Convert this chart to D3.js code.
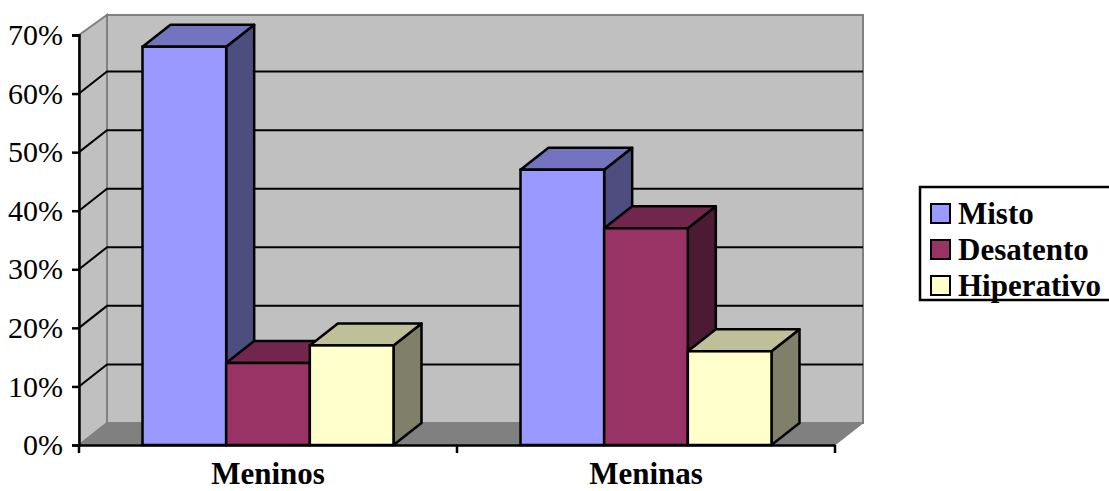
<!DOCTYPE html>
<html>
<head>
<meta charset="utf-8">
<script src="https://cdn.jsdelivr.net/npm/d3@7"></script>
<style>
  html, body { margin: 0; padding: 0; background: #fff; }
  svg { display: block; }
</style>
</head>
<body>
<svg id="chart" width="1109" height="491"></svg>
<script>
// Data
const categories = ["Meninos", "Meninas"];
const seriesNames = ["Misto", "Desatento", "Hiperativo"];
const misto = [68, 47];
const desatento = [14, 37];
const hiperativo = [17, 16];
const yTicks = [0, 10, 20, 30, 40, 50, 60, 70];

// Face colours: front, top, side
const frontColors = ["#9999ff", "#993366", "#ffffcc"];
const topColors = ["#7373bf", "#73264d", "#bfbf99"];
const sideColors = ["#4d4d80", "#4d1a33", "#80806a"];

const values = [misto, desatento, hiperativo];

const svg = d3.select("#chart");
const font = "'Liberation Serif', 'Times New Roman', serif";

// Plot geometry (front plane) and depth offset
const x0 = 79, x1 = 835;
const dx = 28, dy = -22;

const y = d3.scaleLinear().domain([0, 70]).range([445, 35]);
const xCat = d3.scaleBand().domain(categories).range([x0, x1]).paddingInner(0.336).paddingOuter(0.168);
const xSer = d3.scaleBand().domain(seriesNames).range([0, xCat.bandwidth()]);

const g = svg.append("g");

// Back wall
g.append("polygon")
  .attr("points", [[x0 + dx, y(70) + dy + 2], [x1 + dx, y(70) + dy + 2], [x1 + dx, y(0) + dy], [x0 + dx, y(0) + dy]].join(" "))
  .attr("fill", "#c0c0c0").attr("stroke", "#808080").attr("stroke-width", 2);

// Side wall
g.append("polygon")
  .attr("points", [[x0, y(70)], [x0 + dx, y(70) + dy + 2], [x0 + dx, y(0) + dy], [x0, y(0)]].join(" "))
  .attr("fill", "#c0c0c0").attr("stroke", "#808080").attr("stroke-width", 2);

// Floor
g.append("polygon")
  .attr("points", [[x0, y(0)], [x0 + dx, y(0) + dy], [x1 + dx, y(0) + dy], [x1, y(0)]].join(" "))
  .attr("fill", "#808080").attr("stroke", "#808080").attr("stroke-width", 1);

// Gridlines on back and side walls
yTicks.filter(t => t > 0 && t < 70).forEach(t => {
  g.append("polyline")
    .attr("points", [[x0, y(t)], [x0 + dx, y(t) + dy], [x1 + dx, y(t) + dy]].join(" "))
    .attr("fill", "none").attr("stroke", "#000").attr("stroke-width", 2);
});

// Bars
categories.forEach((c, ci) => {
  seriesNames.forEach((s, si) => {
    const v = values[si][ci];
    const bx0 = xCat(c) + xSer(s);
    const bx1 = bx0 + xSer.bandwidth();
    const by = y(v), bb = y(0);
    const bar = g.append("g");
    // side
    bar.append("polygon")
      .attr("points", [[bx1, by], [bx1 + dx, by + dy], [bx1 + dx, bb + dy], [bx1, bb]].join(" "))
      .attr("fill", sideColors[si]).attr("stroke", "#000").attr("stroke-width", 2.5).attr("stroke-linejoin", "round");
    // top
    bar.append("polygon")
      .attr("points", [[bx0, by], [bx0 + dx, by + dy], [bx1 + dx, by + dy], [bx1, by]].join(" "))
      .attr("fill", topColors[si]).attr("stroke", "#000").attr("stroke-width", 2.5).attr("stroke-linejoin", "round");
    // front
    bar.append("rect")
      .attr("x", bx0).attr("y", by).attr("width", bx1 - bx0).attr("height", bb - by)
      .attr("fill", frontColors[si]).attr("stroke", "#000").attr("stroke-width", 2.5);
  });
});

// Value axis
const yAxis = svg.append("g").attr("transform", `translate(${x0},0)`)
  .call(d3.axisLeft(y).tickValues(yTicks).tickFormat(d => d + "%").tickSizeOuter(0).tickSize(7).tickPadding(9));
yAxis.select(".domain").attr("stroke", "#000").attr("stroke-width", 2.5);
yAxis.selectAll(".tick line").attr("stroke", "#000").attr("stroke-width", 2.5);
yAxis.selectAll(".tick text").attr("font-family", font).attr("font-size", 30).attr("fill", "#000");

// Category axis
const xAxis = svg.append("g").attr("transform", `translate(0,${y(0)})`)
  .call(d3.axisBottom(xCat).tickSize(0).tickPadding(0).tickSizeOuter(0));
xAxis.select(".domain").attr("stroke", "#000").attr("stroke-width", 2.5);
xAxis.selectAll(".tick text").attr("font-family", font).attr("font-size", 31)
  .attr("font-weight", "bold").attr("fill", "#000").attr("dy", null).attr("y", 39);
// tick marks at category boundaries
[x0, (x0 + x1) / 2, x1].forEach(xx => {
  xAxis.append("line").attr("x1", xx).attr("x2", xx).attr("y1", 0).attr("y2", 8)
    .attr("stroke", "#000").attr("stroke-width", 2.5);
});

// Legend
const legend = svg.append("g");
legend.append("rect").attr("x", 920).attr("y", 187).attr("width", 200).attr("height", 113)
  .attr("fill", "#fff").attr("stroke", "#000").attr("stroke-width", 2.5);
seriesNames.forEach((s, i) => {
  const cy = 213 + i * 36;
  legend.append("rect").attr("x", 931).attr("y", cy - 9).attr("width", 19).attr("height", 19)
    .attr("fill", frontColors[i]).attr("stroke", "#000").attr("stroke-width", 2);
  legend.append("text").attr("x", 958).attr("y", cy).attr("dy", "0.35em")
    .attr("font-family", font).attr("font-size", 31).attr("font-weight", "bold").text(s);
});
</script>
</body>
</html>
